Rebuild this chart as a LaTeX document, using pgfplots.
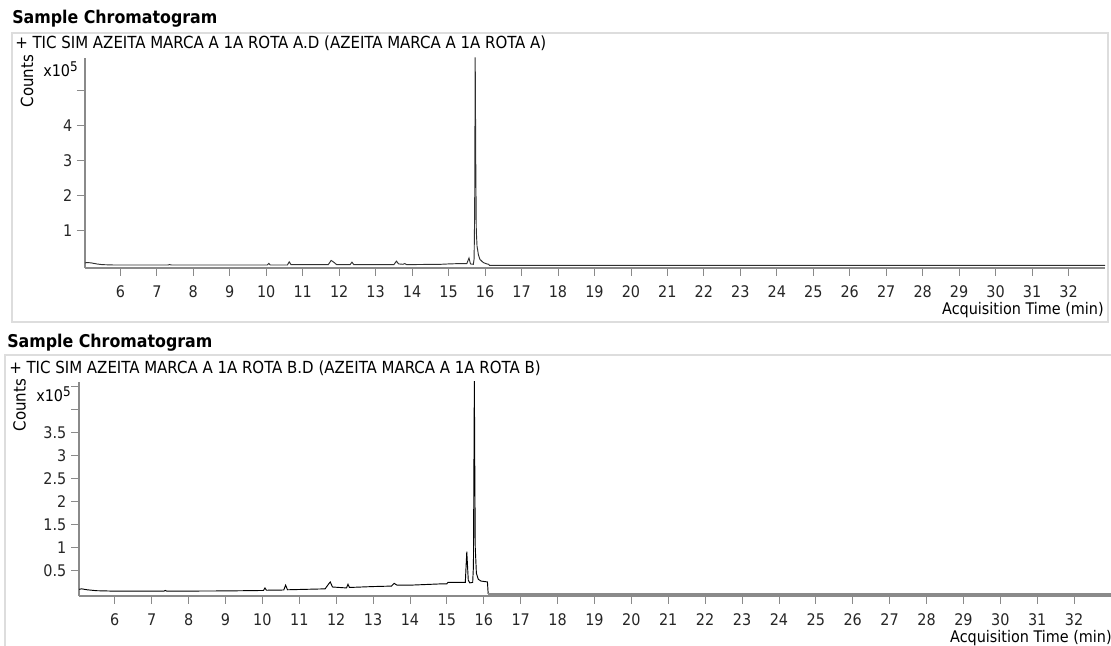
\documentclass[border=0pt]{standalone}
\usepackage{fontspec}
\setmainfont{DejaVu Sans Condensed}
\usepackage{pgfplots}
\pgfplotsset{compat=1.18}
\definecolor{axgray}{HTML}{8A8A8A}
\definecolor{boxgray}{HTML}{DDDDDD}
\definecolor{trace}{HTML}{303030}
\newcommand\fs{\fontsize{12}{14}\selectfont}
\pgfplotsset{
  chrom/.style={
    scale only axis,
    axis x line=bottom, axis y line=left,
    axis line style={-, axgray, line width=1.1pt},
    tick style={axgray, line width=0.6pt},
    tick align=outside,
    major tick length=6pt,
    xtick={6,...,32},
    xmin=5.03, xmax=33,
    /pgf/number format/assume math mode=true,
    tick label style={font=\fs, text=black!85},
    xticklabel style={yshift=-3.5pt},
    clip=true,
  }
}
\begin{document}
\begin{tikzpicture}
\useasboundingbox (0,0) rectangle (833.25pt,484.5pt);
% frames
\draw[boxgray, line width=1.1pt] (9pt,459.75pt) rectangle (831pt,243pt);
\draw[boxgray, line width=1.1pt] (3.75pt,-5pt) -- (3.75pt,218.25pt) -- (840pt,218.25pt);
% titles
\node[anchor=mid west, inner sep=0pt, font=\fontsize{13.2}{15}\selectfont\bfseries] at (9pt,469.5pt) {Sample Chromatogram};
\node[anchor=mid west, inner sep=0pt, font=\fontsize{12.5}{14}\selectfont] at (11.25pt,450.75pt) {+ TIC SIM AZEITA MARCA A 1A ROTA A.D (AZEITA MARCA A 1A ROTA A)};
\node[anchor=mid west, inner sep=0pt, font=\fontsize{13.2}{15}\selectfont\bfseries] at (5.25pt,226.5pt) {Sample Chromatogram};
\node[anchor=mid west, inner sep=0pt, font=\fontsize{12.5}{14}\selectfont] at (6.75pt,207pt) {+ TIC SIM AZEITA MARCA A 1A ROTA B.D (AZEITA MARCA A 1A ROTA B)};
% y labels
\node[rotate=90, inner sep=0pt, font=\fontsize{12.5}{14}\selectfont] at (20.25pt,423.75pt) {Counts};
\node[anchor=base west, inner sep=0pt, font=\fs] at (32.25pt,426.75pt) {x10\textsuperscript{\fontsize{10}{12}\selectfont 5}};
\node[rotate=90, inner sep=0pt, font=\fontsize{12.5}{14}\selectfont] at (14.6pt,180.75pt) {Counts};
\node[anchor=base west, inner sep=0pt, font=\fs] at (27pt,183pt) {x10\textsuperscript{\fontsize{10}{12}\selectfont 5}};
% x labels
\node[anchor=mid east, inner sep=0pt, font=\fs] at (828pt,251.25pt) {Acquisition Time (min)};
\node[anchor=mid east, inner sep=0pt, font=\fs] at (834pt,5pt) {Acquisition Time (min)};

\begin{axis}[chrom,
  at={(63.75pt,283.5pt)}, anchor=south west,
  width=765pt, height=157.5pt,
  ymin=-0.066, ymax=5.934,
  ytick={1,2,3,4,5}, yticklabels={1,2,3,4,{}},
]
\addplot[trace, line width=0.7pt] coordinates {
(5.03,0.08) (5.10,0.09) (5.20,0.08) (5.35,0.05) (5.5,0.03) (5.8,0.02)
(7.30,0.02) (7.35,0.03) (7.40,0.02)
(10.03,0.02) (10.07,0.065) (10.11,0.02)
(10.58,0.02) (10.63,0.11) (10.68,0.03)
(11.70,0.03) (11.78,0.15) (11.85,0.10) (11.93,0.03)
(12.30,0.03) (12.35,0.10) (12.40,0.03)
(13.50,0.03) (13.57,0.13) (13.63,0.05) (13.75,0.04) (13.80,0.06) (13.85,0.03)
(14.8,0.04) (15.0,0.05) (15.3,0.06) (15.50,0.06) (15.56,0.22) (15.60,0.05) (15.68,0.04)
(15.70,0.2) (15.715,1.5) (15.73,5.95) (15.745,3.0) (15.76,1.0) (15.78,0.56)
(15.82,0.3) (15.86,0.18) (15.95,0.09) (16.05,0.05) (16.10,0.04) (16.12,0.01) (33,0.01)
};
\end{axis}

\begin{axis}[chrom,
  at={(59.25pt,37.5pt)}, anchor=south west,
  width=774pt, height=160.5pt,
  ymin=-0.045, ymax=4.60,
  ytick={0.5,1,1.5,2,2.5,3,3.5,4,4.5}, yticklabels={0.5,1,1.5,2,2.5,3,3.5,{},{}},
]
\addplot[black, line width=0.7pt] coordinates {
(5.03,0.10) (5.10,0.11) (5.25,0.09) (5.5,0.07) (6.0,0.06)
(7.33,0.06) (7.37,0.075) (7.41,0.06) (9.0,0.065)
(10.03,0.075) (10.07,0.13) (10.11,0.08)
(10.58,0.085) (10.63,0.19) (10.68,0.09)
(11.70,0.11) (11.80,0.22) (11.84,0.26) (11.90,0.15)
(12.28,0.13) (12.32,0.21) (12.36,0.14)
(13.0,0.16) (13.50,0.17) (13.57,0.23) (13.65,0.19) (14.0,0.19)
(14.9,0.22) (15.0,0.22) (15.03,0.25) (15.50,0.25) (15.54,0.92) (15.58,0.3) (15.62,0.24)
(15.70,0.25) (15.72,0.6) (15.735,3.0) (15.745,4.65) (15.755,3.0) (15.77,1.0) (15.80,0.45)
(15.85,0.32) (15.92,0.28) (16.10,0.26) (16.12,0.0)
};
\addplot[axgray, line width=1.5pt] coordinates {(16.12,0.0) (33,0.0)};
\end{axis}
\end{tikzpicture}
\end{document}
